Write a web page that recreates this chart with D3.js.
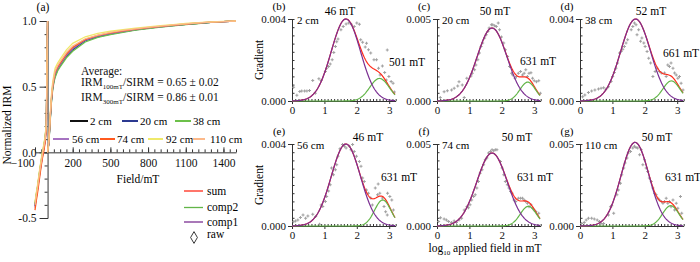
<!DOCTYPE html>
<html>
<head>
<meta charset="utf-8">
<script src="https://cdn.jsdelivr.net/npm/d3@7"></script>
<style>
  body { margin: 0; background: #fff; }
  svg { display: block; font-family: "Liberation Serif", "Times New Roman", serif; }
</style>
</head>
<body>
<div id="chart"></div>
<script>
// ---------- (a) IRM acquisition / backfield ----------
const depths = ["2 cm", "20 cm", "38 cm", "56 cm", "74 cm", "92 cm", "110 cm"];
const acqField = [0, 10, 20, 30, 40, 50, 60, 80, 100, 150, 200, 300, 400, 500, 600, 700, 800, 900, 1000, 1100, 1200, 1300, 1400, 1500];
const backField = [0, -10, -20, -30, -40, -50, -60, -70, -80, -90, -100];

const acq2cm   = [0, 0.07, 0.24, 0.39, 0.49, 0.55, 0.59, 0.64, 0.67, 0.74, 0.79, 0.855, 0.885, 0.905, 0.92, 0.935, 0.946, 0.957, 0.966, 0.975, 0.983, 0.99, 0.996, 1.0];
const acq20cm  = [0, 0.07, 0.23, 0.38, 0.48, 0.54, 0.58, 0.63, 0.66, 0.73, 0.78, 0.85, 0.88, 0.90, 0.918, 0.933, 0.945, 0.956, 0.965, 0.974, 0.982, 0.99, 0.996, 1.0];
const acq38cm  = [0, 0.06, 0.22, 0.37, 0.47, 0.53, 0.57, 0.62, 0.65, 0.72, 0.77, 0.84, 0.875, 0.897, 0.914, 0.93, 0.942, 0.953, 0.963, 0.972, 0.981, 0.989, 0.995, 1.0];
const acq56cm  = [0, 0.07, 0.24, 0.39, 0.49, 0.55, 0.60, 0.64, 0.67, 0.74, 0.79, 0.855, 0.886, 0.906, 0.921, 0.936, 0.947, 0.958, 0.967, 0.976, 0.984, 0.991, 0.996, 1.0];
const acq74cm  = [0, 0.08, 0.25, 0.40, 0.50, 0.56, 0.61, 0.65, 0.68, 0.75, 0.80, 0.86, 0.89, 0.91, 0.925, 0.938, 0.949, 0.959, 0.968, 0.977, 0.985, 0.991, 0.996, 1.0];
const acq92cm  = [0, 0.09, 0.27, 0.43, 0.53, 0.59, 0.64, 0.68, 0.71, 0.78, 0.83, 0.88, 0.905, 0.922, 0.935, 0.946, 0.956, 0.965, 0.973, 0.981, 0.988, 0.993, 0.997, 1.0];
const acq110cm = [0, 0.08, 0.26, 0.41, 0.51, 0.57, 0.62, 0.66, 0.69, 0.76, 0.81, 0.865, 0.893, 0.913, 0.928, 0.94, 0.951, 0.961, 0.97, 0.978, 0.986, 0.992, 0.996, 1.0];

const back2cm   = [1.0, 0.20, 0.10, 0.04, -0.01, -0.07, -0.13, -0.20, -0.27, -0.33, -0.40];
const back20cm  = [1.0, 0.19, 0.09, 0.03, -0.02, -0.08, -0.14, -0.21, -0.28, -0.34, -0.41];
const back38cm  = [1.0, 0.21, 0.11, 0.05, 0.00, -0.06, -0.12, -0.19, -0.26, -0.32, -0.39];
const back56cm  = [1.0, 0.18, 0.08, 0.02, -0.03, -0.09, -0.15, -0.22, -0.29, -0.35, -0.42];
const back74cm  = [1.0, 0.17, 0.07, 0.01, -0.04, -0.10, -0.17, -0.24, -0.31, -0.37, -0.44];
const back92cm  = [1.0, 0.22, 0.12, 0.06, 0.01, -0.05, -0.11, -0.18, -0.25, -0.31, -0.38];
const back110cm = [1.0, 0.20, 0.10, 0.04, -0.01, -0.07, -0.13, -0.20, -0.27, -0.33, -0.40];

const depthColors = ["#111111", "#2b3990", "#6cc04a", "#a673c1", "#ff5a1f", "#efe96a", "#fcb98a"];
const fieldLabels = [-100, 200, 500, 800, 1100, 1400];
const irmLabels = [-0.5, 0.0, 0.5, 1.0];

// ---------- (b)-(g) coercivity unmixing ----------
const panelLetters = ["(b)", "(c)", "(d)", "(e)", "(f)", "(g)"];
const panelDepths = ["2 cm", "20 cm", "38 cm", "56 cm", "74 cm", "110 cm"];
const gradMax = [0.004, 0.005, 0.004, 0.004, 0.005, 0.005];
const peak1Labels = ["46 mT", "50 mT", "52 mT", "46 mT", "50 mT", "50 mT"];
const peak2Labels = ["501 mT", "631 mT", "661 mT", "631 mT", "631 mT", "631 mT"];
// component 1 / 2: mean log10(B), dispersion, amplitude (x1e-4)
const comp1Mean = [1.663, 1.699, 1.716, 1.663, 1.699, 1.699];
const comp1Dp   = [0.45, 0.46, 0.46, 0.45, 0.47, 0.43];
const comp1Amp  = [40, 44.5, 40, 40, 44.5, 51];
const comp2Mean = [2.70, 2.80, 2.82, 2.80, 2.82, 2.80];
const comp2Dp   = [0.30, 0.24, 0.26, 0.25, 0.25, 0.25];
const comp2Amp  = [11, 11.5, 9.8, 12.7, 12, 12.4];

// raw gradient points: [log10 field, gradient x1e-4]
const raw2cm = [[0.05,6.7],[0.15,2.8],[0.24,4.6],[0.30,4.9],[0.39,4.9],[0.46,4.9],[0.54,5.1],[0.64,10.0],[0.72,3.8],[0.83,10.9],[0.90,10.0],[1.03,14.4],[1.07,16.0],[1.13,16.8],[1.18,18.0],[1.24,20.1],[1.29,23.7],[1.34,26.6],[1.38,28.9],[1.42,30.2],[1.51,34.8],[1.58,36.4],[1.67,37.6],[1.75,38.0],[1.83,37.4],[1.92,36.4],[2.00,38.0],[2.08,37.4],[2.12,29.9],[2.18,28.6],[2.26,26.3],[2.30,28.2],[2.36,25.0],[2.43,23.4],[2.53,20.1],[2.61,20.1],[2.67,16.0],[2.72,12.7],[2.79,17.1],[2.86,13.9],[2.91,10.3],[2.94,24.9],[2.99,11.9],[3.06,9.5],[3.12,8.7],[3.16,4.4]];
const raw20cm = [[0.10,2.2],[0.22,5.7],[0.32,6.3],[0.45,6.7],[0.53,7.8],[0.64,9.2],[0.68,11.8],[0.78,9.8],[0.84,2.2],[0.92,13.9],[1.05,15.3],[1.09,16.9],[1.16,19.0],[1.20,22.0],[1.26,25.1],[1.31,29.2],[1.36,33.3],[1.41,35.3],[1.47,38.4],[1.52,40.4],[1.57,42.4],[1.61,44.5],[1.68,46.5],[1.72,46.5],[1.78,45.9],[1.83,45.5],[1.89,47.5],[1.93,43.5],[1.99,39.0],[2.06,35.3],[2.11,31.2],[2.18,27.1],[2.24,21.0],[2.30,16.9],[2.34,15.9],[2.41,13.9],[2.45,14.9],[2.51,16.9],[2.58,18.0],[2.64,15.9],[2.69,16.9],[2.74,19.0],[2.79,14.9],[2.84,16.9],[2.90,17.3],[2.95,13.9],[3.00,12.4],[3.07,11.8],[3.14,12.4],[3.19,4.7]];
const raw38cm = [[0.08,2.1],[0.15,2.9],[0.26,4.1],[0.36,4.9],[0.46,5.4],[0.57,5.9],[0.65,6.2],[0.73,6.5],[0.80,5.7],[0.88,7.0],[0.96,9.5],[1.01,11.9],[1.06,13.9],[1.11,16.0],[1.16,18.5],[1.22,23.4],[1.27,24.2],[1.32,25.3],[1.37,26.6],[1.42,28.3],[1.47,29.9],[1.58,34.8],[1.63,36.4],[1.68,38.0],[1.73,37.2],[1.76,32.3],[1.81,34.8],[1.87,29.1],[1.91,30.7],[1.97,28.3],[2.01,26.6],[2.07,24.2],[2.12,20.9],[2.18,18.5],[2.25,11.9],[2.32,14.4],[2.38,16.0],[2.45,14.4],[2.51,13.6],[2.61,13.6],[2.66,11.9],[2.71,17.6],[2.76,16.8],[2.81,18.5],[2.87,16.0],[2.92,13.6],[2.97,12.7],[3.02,11.1],[3.07,11.9],[3.12,8.7],[3.18,5.4]];
const raw56cm = [[0.05,2.1],[0.11,2.4],[0.18,2.9],[0.26,4.1],[0.34,5.4],[0.42,3.8],[0.49,4.9],[0.64,5.7],[0.73,4.6],[0.85,0.8],[0.90,10.3],[0.95,9.5],[1.03,11.9],[1.07,14.4],[1.13,17.1],[1.18,20.1],[1.22,28.3],[1.28,25.0],[1.34,27.4],[1.38,29.9],[1.42,34.0],[1.48,37.7],[1.56,39.7],[1.62,38.9],[1.67,38.0],[1.77,38.9],[1.82,37.2],[1.87,39.7],[1.92,36.4],[1.99,34.0],[2.08,31.5],[2.13,29.1],[2.18,23.4],[2.23,21.7],[2.30,17.6],[2.36,16.0],[2.43,13.6],[2.48,10.3],[2.57,18.5],[2.64,15.2],[2.66,20.5],[2.71,16.0],[2.79,13.6],[2.84,9.5],[2.89,7.0],[2.94,5.4],[2.95,16.0],[3.02,14.4],[3.08,12.7],[3.13,7.8]];
const raw74cm = [[0.05,2.7],[0.11,5.1],[0.22,4.3],[0.29,3.7],[0.36,2.7],[0.45,2.2],[0.53,3.1],[0.60,2.2],[0.68,3.7],[0.76,4.7],[0.84,9.8],[0.92,11.8],[0.97,11.2],[1.02,12.9],[1.07,15.9],[1.13,18.0],[1.18,19.0],[1.23,23.1],[1.28,27.1],[1.33,32.2],[1.39,34.3],[1.44,37.3],[1.49,40.4],[1.54,41.4],[1.59,44.5],[1.65,45.5],[1.70,46.5],[1.75,45.9],[1.80,46.5],[1.85,46.5],[1.96,39.4],[2.01,35.3],[2.06,31.2],[2.11,27.1],[2.17,25.1],[2.22,23.1],[2.27,21.0],[2.32,20.0],[2.38,15.9],[2.43,14.9],[2.51,16.9],[2.58,16.9],[2.64,16.9],[2.69,15.9],[2.74,14.9],[2.79,13.9],[2.84,11.8],[2.90,12.9],[2.95,10.8],[3.00,9.8],[3.05,8.8],[3.14,7.8]];
const raw110cm = [[0.05,1.6],[0.13,2.2],[0.19,3.7],[0.26,4.7],[0.36,4.7],[0.44,4.3],[0.53,3.7],[0.60,2.7],[0.65,1.6],[0.73,1.6],[0.88,6.7],[0.94,11.8],[0.98,12.4],[1.04,7.8],[1.14,19.0],[1.19,22.0],[1.25,26.1],[1.29,31.2],[1.35,35.3],[1.39,38.4],[1.45,41.4],[1.49,44.5],[1.56,45.5],[1.63,47.5],[1.68,48.6],[1.73,47.9],[1.78,47.5],[1.84,43.5],[1.89,46.5],[1.94,37.3],[1.99,40.4],[2.04,35.3],[2.09,33.3],[2.14,29.2],[2.20,27.1],[2.25,23.1],[2.30,20.0],[2.35,19.0],[2.40,16.9],[2.45,15.9],[2.51,14.9],[2.56,13.9],[2.61,14.9],[2.66,16.9],[2.71,13.9],[2.76,14.9],[2.81,11.8],[2.87,15.9],[2.92,9.8],[2.97,13.9],[3.02,10.8],[3.10,18.0],[3.14,7.8]];

const acqSeries = [acq2cm, acq20cm, acq38cm, acq56cm, acq74cm, acq92cm, acq110cm];
const backSeries = [back2cm, back20cm, back38cm, back56cm, back74cm, back92cm, back110cm];
const rawSeries = [raw2cm, raw20cm, raw38cm, raw56cm, raw74cm, raw110cm];

// ---------- drawing ----------
const W = 700, H = 262;
const svg = d3.select("#chart").append("svg")
    .attr("width", W).attr("height", H)
    .attr("viewBox", `0 0 ${W} ${H}`);

const axisColor = "#333";
const styleAxis = g => {
    g.selectAll("path, line").attr("stroke", axisColor).attr("stroke-width", 1);
    g.selectAll("text").attr("fill", "#111").attr("font-family", "Liberation Serif, serif");
};

// ===== panel (a) =====
const xA = d3.scaleLinear().domain([-100, 1500]).range([35, 236]);
const yA = d3.scaleLinear().domain([-0.5, 1.0]).range([218, 21]);
const ga = svg.append("g");

// y axis: minor ticks every 0.1, labelled ticks
ga.append("g")
    .attr("transform", `translate(${xA(0)},0)`)
    .call(d3.axisLeft(yA).tickValues(d3.range(-5, 11).map(d => d / 10)).tickSize(3).tickFormat(""))
    .call(styleAxis);
ga.append("g")
    .attr("transform", `translate(${xA(0)},0)`)
    .call(d3.axisLeft(yA).tickValues(irmLabels).tickSize(8).tickSizeOuter(0).tickPadding(3).tickFormat(d => d.toFixed(1)))
    .call(g => g.select(".domain").remove())
    .call(g => g.selectAll("text").attr("font-size", 11.5))
    .call(styleAxis);

// x axis along y = 0, ticks pointing up
ga.append("g")
    .attr("transform", `translate(0,${yA(0)})`)
    .call(d3.axisBottom(xA).tickValues(d3.range(-100, 1501, 50)).tickSizeInner(-3).tickSizeOuter(0).tickFormat(""))
    .call(styleAxis);
ga.append("g")
    .attr("transform", `translate(0,${yA(0)})`)
    .call(d3.axisBottom(xA).tickValues(fieldLabels).tickSizeInner(-5).tickSizeOuter(0).tickPadding(7).tickFormat(d3.format("d")))
    .call(g => g.select(".domain").remove())
    .call(g => g.selectAll("text").attr("font-size", 11.5))
    .call(g => g.selectAll(".tick").filter(d => d < 0).select("text")
        .attr("text-anchor", "end").attr("x", -1))
    .call(styleAxis);

const lineA = d3.line().x(d => xA(d[0])).y(d => yA(d[1]));
depths.forEach((dep, i) => {
    const acq = acqField.map((f, j) => [f, acqSeries[i][j]]);
    const back = backField.map((f, j) => [f, backSeries[i][j]]);
    [back, acq].forEach(pts => {
        ga.append("path")
            .attr("d", lineA(pts))
            .attr("fill", "none")
            .attr("stroke", depthColors[i])
            .attr("stroke-width", 1.3);
    });
});

ga.append("text").attr("x", 43).attr("y", 11).attr("text-anchor", "middle")
    .attr("font-size", 11.5).text("(a)");
ga.append("text").attr("transform", "translate(11,125) rotate(-90)")
    .attr("text-anchor", "middle").attr("font-size", 11.5).text("Normalized IRM");
ga.append("text").attr("x", 138).attr("y", 183).attr("text-anchor", "middle")
    .attr("font-size", 11.5).text("Field/mT");

// averages text
const note = ga.append("g").attr("font-size", 11.5).attr("fill", "#111");
note.append("text").attr("x", 81).attr("y", 75).text("Average:");
[["100mT", "0.65 ± 0.02", 86], ["300mT", "0.86 ± 0.01", 101]].forEach(r => {
    const t = note.append("text").attr("x", 81).attr("y", r[2]);
    t.append("tspan").text("IRM");
    t.append("tspan").attr("dy", 2.5).attr("font-size", 7).text(r[0]);
    t.append("tspan").attr("dy", -2.5).text("/SIRM = " + r[1]);
});

// depth legend
const legA = [
    [70, 88, 90, 121], [122, 138, 140, 121], [175, 191, 193, 121],
    [53, 69, 72, 139], [100, 115, 117, 139], [148, 163, 166, 139], [193, 205, 210, 139]
];
depths.forEach((dep, i) => {
    const p = legA[i];
    ga.append("line").attr("x1", p[0]).attr("x2", p[1]).attr("y1", p[3]).attr("y2", p[3])
        .attr("stroke", depthColors[i]).attr("stroke-width", 2);
    ga.append("text").attr("x", p[2]).attr("y", p[3] + 4).attr("font-size", 11).text(dep);
});

// component legend
const compColors = { sum: "#ff2a1a", comp2: "#62b548", comp1: "#7b2f92" };
const legB = ga.append("g").attr("font-size", 11.5);
[["sum", 191], ["comp2", 207.5], ["comp1", 222]].forEach(r => {
    legB.append("line").attr("x1", 184).attr("x2", 203).attr("y1", r[1]).attr("y2", r[1])
        .attr("stroke", compColors[r[0]]).attr("stroke-width", 1.3);
    legB.append("text").attr("x", 207).attr("y", r[1] + 3.5).text(r[0]);
});
legB.append("path").attr("transform", "translate(194,237.5)")
    .attr("d", d3.symbol(d3.symbolDiamond, 40)())
    .attr("fill", "none").attr("stroke", "#222").attr("stroke-width", 0.9);
legB.append("text").attr("x", 207).attr("y", 238).text("raw");

// ===== panels (b)-(g) =====
const colX0 = [292, 437, 580];
const rowBase = [101, 226];
const plotH = 82, unitPx = 32.4;
const gauss = (x, m, s, a) => a * Math.exp(-((x - m) ** 2) / (2 * s * s));
const logGrid = d3.range(0, 3.181, 0.02);

panelLetters.forEach((letter, i) => {
    const x0 = colX0[i % 3], base = rowBase[Math.floor(i / 3)];
    const x = d3.scaleLinear().domain([0, 3.2]).range([x0, x0 + 3.2 * unitPx]);
    const y = d3.scaleLinear().domain([0, gradMax[i]]).range([base, base - plotH]);
    const g = svg.append("g");

    // axes
    g.append("g").attr("transform", `translate(${x0},0)`)
        .call(d3.axisRight(y).tickValues(d3.range(0, 11).map(k => gradMax[i] * k / 10)).tickSize(2.5).tickSizeOuter(0).tickFormat(""))
        .call(styleAxis);
    g.append("g").attr("transform", `translate(${x0},0)`)
        .call(d3.axisLeft(y).tickValues([0, gradMax[i]]).tickSize(4).tickSizeOuter(0).tickPadding(2).tickFormat(d => d.toFixed(3)))
        .call(gg => gg.select(".domain").remove())
        .call(gg => gg.selectAll("text").attr("font-size", 11))
        .call(styleAxis);
    g.append("g").attr("transform", `translate(0,${base})`)
        .call(d3.axisBottom(x).tickValues(d3.range(0, 33).map(k => k / 10)).tickSizeInner(-2).tickSizeOuter(0).tickFormat(""))
        .call(styleAxis);
    g.append("g").attr("transform", `translate(0,${base})`)
        .call(d3.axisBottom(x).tickValues([0, 1, 2, 3]).tickSize(3).tickSizeOuter(0).tickPadding(2).tickFormat(d3.format("d")))
        .call(gg => gg.select(".domain").remove())
        .call(gg => gg.selectAll("text").attr("font-size", 11))
        .call(styleAxis);

    // raw points (small grey crosses)
    g.append("g").selectAll("path")
        .data(rawSeries[i])
        .join("path")
        .attr("transform", d => `translate(${x(d[0])},${y(d[1] * 1e-4)})`)
        .attr("d", d3.symbol(d3.symbolCross, 5)())
        .attr("fill", "#a0a0a0");

    // fitted components
    const c1 = logGrid.map(l => [l, gauss(l, comp1Mean[i], comp1Dp[i], comp1Amp[i]) * 1e-4]);
    const c2 = logGrid.map(l => [l, gauss(l, comp2Mean[i], comp2Dp[i], comp2Amp[i]) * 1e-4]);
    const sum = c1.map((d, k) => [d[0], d[1] + c2[k][1]]);
    const line = d3.line().x(d => x(d[0])).y(d => y(d[1]));
    [[sum, compColors.sum], [c2, compColors.comp2], [c1, compColors.comp1]].forEach(c => {
        g.append("path").attr("d", line(c[0]))
            .attr("fill", "none").attr("stroke", c[1]).attr("stroke-width", 1.2);
    });

    // labels
    g.append("text").attr("x", x0 - 13).attr("y", base - plotH - 9)
        .attr("text-anchor", "middle").attr("font-size", 11).text(letter);
    g.append("text").attr("x", x0 + 5).attr("y", base - plotH + 5)
        .attr("font-size", 11).text(panelDepths[i]);
    const top = i < 3;
    const p1x = [340, 495, 651, 368, 517, 657][i];
    const p2x = [389, 520, 663, 381, 517, 665][i];
    const p2y = [62, 61, 53, 177, 177, 177][i];
    g.append("text").attr("x", p1x).attr("y", top ? 15 : 141)
        .attr("text-anchor", "middle").attr("font-size", 11.5).text(peak1Labels[i]);
    g.append("text").attr("x", p2x).attr("y", p2y + 4)
        .attr("font-size", 11.5).text(peak2Labels[i]);
    if (i % 3 === 0) {
        g.append("text").attr("transform", `translate(263,${base - plotH / 2}) rotate(-90)`)
            .attr("text-anchor", "middle").attr("font-size", 11.5).text("Gradient");
    }
});

// shared x label
const xl = svg.append("text").attr("x", 485).attr("y", 252).attr("text-anchor", "middle").attr("font-size", 11.5);
xl.append("tspan").text("log");
xl.append("tspan").attr("dy", 2.5).attr("font-size", 7).text("10");
xl.append("tspan").attr("dy", -2.5).text(" applied field in mT");
</script>
</body>
</html>
